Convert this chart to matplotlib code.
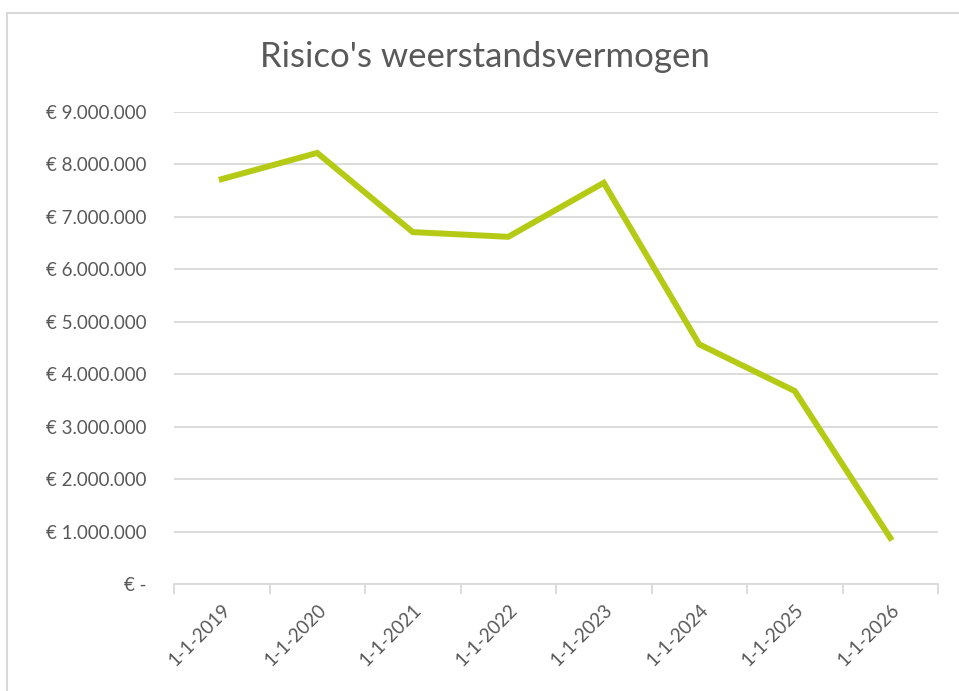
import matplotlib.pyplot as plt
from matplotlib.patches import Rectangle
from matplotlib.ticker import FuncFormatter, FixedLocator

# data
dates = ['1-1-2019', '1-1-2020', '1-1-2021', '1-1-2022',
         '1-1-2023', '1-1-2024', '1-1-2025', '1-1-2026']
waarden = [7720000, 8220000, 6710000, 6620000, 7650000, 4570000, 3680000, 880000]

plt.rcParams['font.family'] = ['Lato', 'DejaVu Sans']
tekst = '#595959'
grid = '#D9D9D9'


def euro(v, pos):
    if v == 0:
        return '€ -'
    return '€ ' + f'{int(v):,}'.replace(',', '.')


fig = plt.figure(figsize=(9.59, 6.91), dpi=100)
ax = fig.add_axes([174 / 959, 1 - 584 / 691, (938 - 174) / 959, (584 - 112) / 691])

# light grey frame round the chart area (as in Excel export)
fig.patches.append(Rectangle((7 / 959, -0.05), 1.2, 1 - 13 / 691 + 0.05,
                             transform=fig.transFigure, fill=False,
                             edgecolor=grid, linewidth=1.5))

x = list(range(len(dates)))
ax.plot(x, waarden, color='#B5CA14', linewidth=4.3, solid_joinstyle='miter')

ax.set_xlim(-0.5, len(dates) - 0.5)
ax.set_ylim(0, 9000000)
ax.set_yticks(range(0, 9000001, 1000000))
ax.yaxis.set_major_formatter(FuncFormatter(euro))
ax.grid(axis='y', color=grid, linewidth=1.3)
ax.set_axisbelow(True)

# tick marks on the category boundaries, labels in the middle
ax.xaxis.set_major_locator(FixedLocator([i - 0.5 for i in range(len(dates) + 1)]))
ax.xaxis.set_major_formatter(FuncFormatter(lambda v, p: ''))
ax.xaxis.set_minor_locator(FixedLocator(x))
ax.set_xticklabels(dates, minor=True, rotation=45, ha='right', va='top',
                   rotation_mode='anchor')
ax.tick_params(axis='x', which='major', length=7, color=grid, width=1.3)
ax.tick_params(axis='x', which='minor', length=0, pad=12, labelsize=13.5,
               labelcolor=tekst)
ax.tick_params(axis='y', length=0, pad=20, labelsize=13.5, labelcolor=tekst)
for lab in ax.get_yticklabels():
    lab.set_horizontalalignment('right')

for s in ['top', 'right', 'left']:
    ax.spines[s].set_visible(False)
ax.spines['bottom'].set_color(grid)
ax.spines['bottom'].set_linewidth(1.3)

fig.text(485 / 959, 1 - 57 / 691, "Risico's weerstandsvermogen", ha='center',
         va='center', fontsize=25, color=tekst)

plt.savefig('out.png', dpi=100, facecolor='white')
